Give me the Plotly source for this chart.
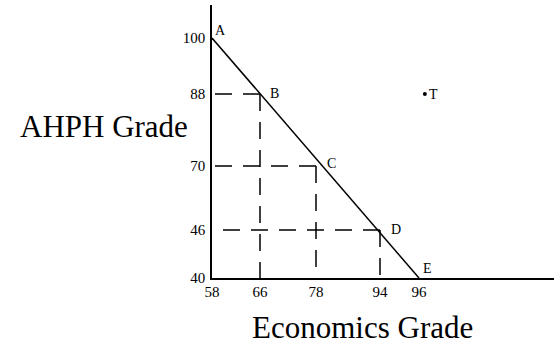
import numpy as np
import plotly.graph_objects as go

# ---- data ----
econ_ticks = [58, 66, 78, 94, 96]
ahph_ticks = [40, 46, 70, 88, 100]

point_labels = ["A", "B", "C", "D", "E"]
point_econ = [58, 66, 78, 94, 96]
point_ahph = [100, 88, 70, 46, 40]

t_label = "T"
t_econ = 96.3
t_ahph = 88

# schematic (non-linear) placement of the tick values along each axis
econ_pos = [0, 48, 104, 168, 207]
ahph_pos = [0, 48, 112, 184, 240]


def scale(v, ticks, pos):
    v = np.asarray(v, dtype=float)
    out = np.interp(v, ticks, pos)
    hi = v > ticks[-1]
    slope = (pos[-1] - pos[-2]) / (ticks[-1] - ticks[-2])
    out[hi] = pos[-1] + (v[hi] - ticks[-1]) * slope
    return out


px = scale(point_econ, econ_ticks, econ_pos)
py = scale(point_ahph, ahph_ticks, ahph_pos)
x0 = scale([econ_ticks[0]], econ_ticks, econ_pos)[0]
y0 = scale([ahph_ticks[0]], ahph_ticks, ahph_pos)[0]

FONT = "Liberation Serif, Times New Roman, serif"
dash = "17px,11px"

fig = go.Figure()

# dashed guide lines for B, C, D
for i in [1, 2, 3]:
    fig.add_trace(go.Scatter(x=[px[i], x0], y=[py[i], py[i]], mode="lines",
                             line=dict(color="black", width=1.5, dash=dash),
                             hoverinfo="skip", showlegend=False))
    fig.add_trace(go.Scatter(x=[px[i], px[i]], y=[py[i], y0], mode="lines",
                             line=dict(color="black", width=1.5, dash=dash),
                             hoverinfo="skip", showlegend=False))

# straight line A -> E
fig.add_trace(go.Scatter(x=[px[0], px[-1]], y=[py[0], py[-1]], mode="lines",
                         line=dict(color="black", width=1.5),
                         showlegend=False, cliponaxis=False))

# point T
tx = scale([t_econ], econ_ticks, econ_pos)[0]
ty = scale([t_ahph], ahph_ticks, ahph_pos)[0]
fig.add_trace(go.Scatter(x=[tx], y=[ty], mode="markers",
                         marker=dict(color="black", size=4),
                         showlegend=False))

# point labels
offsets = {"A": (8, 8), "B": (14, 1), "C": (15, 3), "D": (16, 1), "E": (8, 10)}
for lab, xx, yy in zip(point_labels, px, py):
    dx, dy = offsets[lab]
    fig.add_annotation(x=xx, y=yy, text=lab, showarrow=False, xshift=dx, yshift=dy,
                       xanchor="center", yanchor="middle",
                       font=dict(family=FONT, size=14, color="black"))
fig.add_annotation(x=tx, y=ty, text=t_label, showarrow=False, xshift=9, yshift=0,
                   xanchor="center", yanchor="middle",
                   font=dict(family=FONT, size=14, color="black"))

W, H = 554, 346
L, B, T, R = 212, 68, 5, 0
pw, ph = W - L - R, H - T - B

# axis titles
fig.add_annotation(xref="paper", yref="paper", x=(104 - L) / pw, y=(H - B - 127) / ph,
                   text="AHPH Grade", showarrow=False, xanchor="center", yanchor="middle",
                   font=dict(family=FONT, size=31, color="black"))
fig.add_annotation(xref="paper", yref="paper", x=(362 - L) / pw, y=(H - B - 327) / ph,
                   text="Economics Grade", showarrow=False, xanchor="center", yanchor="middle",
                   font=dict(family=FONT, size=31, color="black"))

fig.update_layout(
    width=W, height=H,
    margin=dict(l=L, r=R, t=T, b=B),
    paper_bgcolor="white", plot_bgcolor="white",
    xaxis=dict(range=[0, pw], showgrid=False, zeroline=False, showline=True,
               linecolor="black", linewidth=1.5, ticks="",
               tickvals=econ_pos, ticktext=[str(v) for v in econ_ticks],
               tickfont=dict(family=FONT, size=15, color="black"),
               ticklabelstandoff=-1, fixedrange=True),
    yaxis=dict(range=[0, ph], showgrid=False, zeroline=False, showline=True,
               linecolor="black", linewidth=1.5, ticks="",
               tickvals=ahph_pos, ticktext=[str(v) for v in ahph_ticks],
               tickfont=dict(family=FONT, size=15, color="black"),
               ticklabelstandoff=2, fixedrange=True),
)

fig.write_html("out.html", config={"displayModeBar": False},
               post_script="document.body.style.margin='0';")
